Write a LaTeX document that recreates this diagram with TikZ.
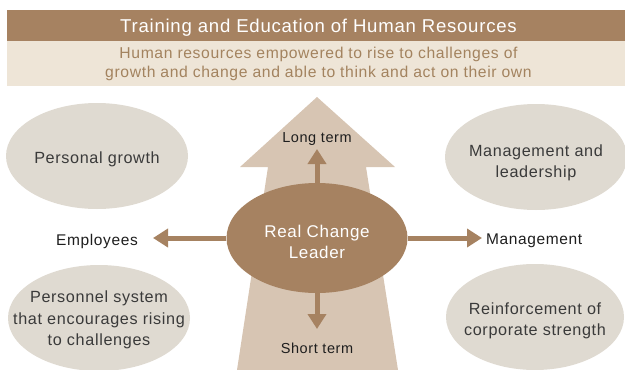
\documentclass[tikz,border=0pt]{standalone}
\usepackage{fontspec}
\setmainfont{Liberation Sans}[LetterSpace=4]
\usetikzlibrary{arrows.meta,shapes.geometric}
\definecolor{brownD}{HTML}{A68261}
\definecolor{bandL}{HTML}{EEE5D7}
\definecolor{arrowL}{HTML}{D7C5B3}
\definecolor{ellG}{HTML}{DFDAD1}
\definecolor{subT}{HTML}{A3835F}
\definecolor{txtD}{HTML}{3A3A3A}
\definecolor{txtK}{HTML}{1E1E1E}
\tikzset{
  topic/.style={ellipse, fill=ellG, inner sep=0pt, minimum width=182pt, minimum height=106pt},
  topictext/.style={align=center, text=txtD, inner sep=0pt, font=\fontsize{16.2}{21.5}\selectfont},
  side/.style={text=txtK, inner sep=0pt, font=\fontsize{15.5}{18}\selectfont},
  arr/.style={brownD, line width=5pt, -{Triangle[length=15pt,width=18pt]}},
}
\begin{document}
\begin{tikzpicture}[x=1pt,y=-1pt]
\useasboundingbox (0,0) rectangle (625,370);
% header
\fill[brownD] (7,10) rectangle (625,41);
\fill[bandL] (7,41) rectangle (625,86);
\node[text=white, font=\fontsize{18.6}{20}\selectfont] (title) at (318.5,28) {Training and Education of Human Resources};
\node[text=subT, align=center, font=\fontsize{15.7}{18.5}\selectfont] (sub) at (318.5,64)
  {Human resources empowered to rise to challenges of\\growth and change and able to think and act on their own};
% big arrow
\fill[arrowL] (317,97) -- (395,167) -- (366,167) -- (398,370) -- (237,370) -- (268,167) -- (240,167) -- cycle;
% topic ellipses
\node[topic] (pg) at (97,156) {};
\node[topic] (ml) at (536,157) {};
\node[topic] (ps) at (99,318) {};
\node[topic, minimum width=178pt] (rc) at (535,317) {};
\node[topictext] (pgt) at (97,159) {Personal growth};
\node[topictext] (mlt) at (536,163) {Management and\\leadership};
\node[topictext] (pst) at (99,320) {Personnel system\\that encourages rising\\to challenges};
\node[topictext] (rct) at (535,321) {Reinforcement of\\corporate strength};
% center
\node[ellipse, fill=brownD, minimum width=181pt, minimum height=110pt, inner sep=0pt] (rcl) at (317,238) {};
\node[align=center, text=white, inner sep=0pt, font=\fontsize{17}{21}\selectfont] (rclt) at (317,242) {Real Change\\Leader};
% labels
\node[side, anchor=east] (emp) at (138,241) {Employees};
\node[side, anchor=west] (mgt) at (486,241) {Management};
\node[side, font=\fontsize{14.5}{17}\selectfont] (lt) at (317,139) {Long term};
\node[side, font=\fontsize{14.5}{17}\selectfont] (st) at (317,348) {Short term};
\coordinate (ltip) at (153,238);
\coordinate (rtip) at (482,238);
\coordinate (utip) at (317,149);
\coordinate (dtip) at (317,329);
\draw[arr] (rcl.west) -- (ltip);
\draw[arr] (rcl.east) -- (rtip);
\draw[arr] (rcl.north) -- (utip);
\draw[arr] (rcl.south) -- (dtip);
\end{tikzpicture}
\end{document}
